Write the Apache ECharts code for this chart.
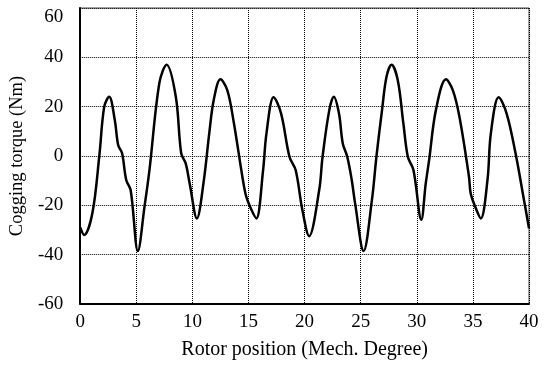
<!DOCTYPE html>
<html>
<head>
<meta charset="utf-8">
<script src="https://cdn.jsdelivr.net/npm/echarts@6/dist/echarts.min.js"></script>
<style>
  html, body { margin: 0; padding: 0; background: #fff; }
  #chart { width: 550px; height: 367px; }
</style>
</head>
<body>
<div id="chart"></div>
<script>
// rotor position (mech. degree) and cogging torque (Nm)
var position = [0, 0.35, 1.09, 1.7, 2.14, 2.58, 3.08, 3.38, 3.73, 4.1, 4.5, 5.14, 5.73, 6.17, 7.05, 7.7, 8.52, 9.0, 9.4, 9.75, 10.4, 11.0, 11.5, 11.9, 12.5, 13.1, 13.65, 14.5, 14.8, 15.27, 15.7, 16.3, 16.6, 17.24, 17.9, 18.65, 19.2, 19.8, 20.4, 21.3, 21.6, 22.2, 22.6, 23.06, 23.4, 23.8, 24.2, 24.5, 25.26, 26.0, 26.4, 26.9, 27.3, 27.75, 28.3, 28.8, 29.2, 29.7, 30.4, 30.8, 31.1, 31.7, 32.6, 33.2, 33.8, 34.65, 34.8, 35.2, 35.7, 36.3, 36.6, 37.3, 38.0, 38.8, 39.5, 40];
var torque = [-29, -32, -23, 0, 20, 24, 14.6, 4.5, 1.1, -9.7, -14, -38.5, -20.5, -5.7, 29.5, 37, 24, 1.1, -3, -11, -25.3, -10.5, 9.2, 22.7, 31.1, 26.8, 14.6, -9.7, -16.5, -21.9, -25.3, -5.7, 9.2, 23.8, 17.3, -0.3, -5.7, -21.9, -32.5, -13.8, -0.3, 18.6, 24, 17.3, 5.1, -0.3, -9.7, -19.2, -38.5, -17.8, -0.3, 18.6, 32.1, 37, 30.8, 13.3, -0.3, -5.7, -25.8, -11, -1.6, 18.6, 31.1, 26.8, 15.9, -8.4, -15.1, -20.5, -25.3, -9.7, 9.2, 23.8, 17.3, 1.1, -16.5, -29.3];
var xTicks = [0, 5, 10, 15, 20, 25, 30, 35, 40];
var yTicks = [-60, -40, -20, 0, 20, 40, 60];

var curve = position.map(function (p, i) { return [p, torque[i]]; });

var chart = echarts.init(document.getElementById('chart'));
var font = 'Liberation Serif';
chart.setOption({
    animation: false,
    grid: {
        left: 75, right: 21, top: 8, bottom: 63,
        show: true, borderColor: '#444', borderWidth: 1
    },
    xAxis: {
        type: 'value',
        min: xTicks[0], max: xTicks[xTicks.length - 1], interval: 5,
        name: 'Rotor position (Mech. Degree)',
        nameLocation: 'middle', nameGap: 36,
        nameTextStyle: { fontFamily: font, fontSize: 20, color: '#000' },
        axisLine: { onZero: false, lineStyle: { color: '#000', width: 2 } },
        axisTick: { show: false },
        axisLabel: { fontFamily: font, fontSize: 19, color: '#000', margin: 9 },
        splitLine: { lineStyle: { color: '#000', width: 1, type: [1, 1] } }
    },
    yAxis: {
        type: 'value',
        min: yTicks[0], max: yTicks[yTicks.length - 1], interval: 20,
        name: 'Cogging torque (Nm)',
        nameLocation: 'middle', nameGap: 52, nameRotate: 90,
        nameTextStyle: { fontFamily: font, fontSize: 18.5, color: '#000' },
        axisLine: { show: true, onZero: false, lineStyle: { color: '#000', width: 2 } },
        axisTick: { show: false },
        axisLabel: {
            fontFamily: font, fontSize: 19, color: '#000', margin: 17,
            verticalAlignMaxLabel: 'top'
        },
        splitLine: { lineStyle: { color: '#000', width: 1, type: [1, 1] } }
    },
    series: [{
        type: 'line',
        data: curve,
        smooth: 0.35,
        showSymbol: false,
        lineStyle: { color: '#000', width: 2.5 }
    }]
});
</script>
</body>
</html>
